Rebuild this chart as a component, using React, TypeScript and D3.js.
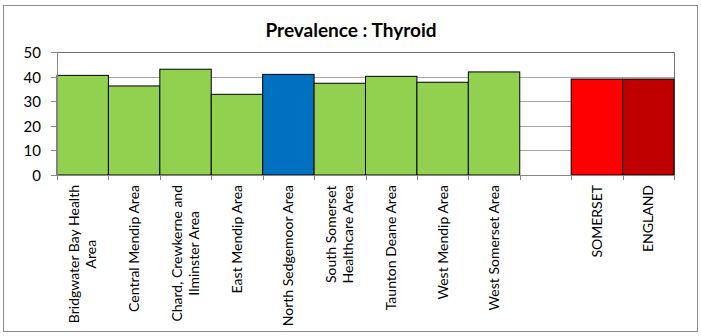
import React, { useEffect, useRef } from 'react';
import * as d3 from 'd3';

// chart data
const categories = [
  'Bridgwater Bay Health Area',
  'Central Mendip Area',
  'Chard, Crewkerne and Ilminster Area',
  'East Mendip Area',
  'North Sedgemoor Area',
  'South Somerset Healthcare Area',
  'Taunton Deane Area',
  'West Mendip Area',
  'West Somerset Area',
  '',
  'SOMERSET',
  'ENGLAND',
];
// wrapped the way Excel wraps them
const labelLines = [
  ['Bridgwater Bay Health', 'Area'],
  ['Central Mendip Area'],
  ['Chard, Crewkerne and', 'Ilminster Area'],
  ['East Mendip Area'],
  ['North Sedgemoor Area'],
  ['South Somerset', 'Healthcare Area'],
  ['Taunton Deane Area'],
  ['West Mendip Area'],
  ['West Somerset Area'],
  [],
  ['SOMERSET'],
  ['ENGLAND'],
];
const values: (number | null)[] = [40.5, 36.2, 43.0, 32.8, 40.9, 37.3, 40.1, 37.7, 41.9, null, 39.0, 39.0];
const barColors = [
  '#92D050', '#92D050', '#92D050', '#92D050', '#0070C0', '#92D050',
  '#92D050', '#92D050', '#92D050', 'none', '#FF0000', '#C00000',
];
const yTicks = [0, 10, 20, 30, 40, 50];
const title = 'Prevalence : Thyroid';

const FONT = 'Lato, "Open Sans", sans-serif';

const Chart: React.FC = () => {
  const ref = useRef<SVGSVGElement>(null);

  useEffect(() => {
    const width = 701, height = 336;
    const plot = { left: 57, right: 674, top: 52, bottom: 175 };

    const svg = d3.select(ref.current)
      .attr('width', width)
      .attr('height', height);
    svg.selectAll('*').remove();

    // outer chart frame
    svg.append('rect')
      .attr('x', 3.5).attr('y', 5.5)
      .attr('width', 694).attr('height', 326)
      .attr('fill', '#fff')
      .attr('stroke', '#8c8c8c');

    svg.append('text')
      .attr('x', 351)
      .attr('y', 37)
      .attr('text-anchor', 'middle')
      .style('font-family', FONT)
      .style('font-weight', 'bold')
      .style('font-size', '19px')
      .text(title);

    const x = d3.scaleBand<number>()
      .domain(categories.map((_, i) => i))
      .range([plot.left, plot.right])
      .padding(0);

    const y = d3.scaleLinear()
      .domain([0, 50])
      .range([plot.bottom, plot.top]);

    // gridlines
    yTicks.filter(t => t > 0 && t < 50).forEach(t => {
      svg.append('line')
        .attr('x1', plot.left).attr('x2', plot.right)
        .attr('y1', Math.round(y(t)) + 0.5).attr('y2', Math.round(y(t)) + 0.5)
        .attr('stroke', '#a6a6a6');
    });

    // plot area border (top + right)
    svg.append('path')
      .attr('d', `M${plot.left},${plot.top + 0.5}H${plot.right + 0.5}V${plot.bottom}`)
      .attr('fill', 'none')
      .attr('stroke', '#707070');

    // bars
    values.forEach((v, i) => {
      if (v == null) return;
      svg.append('rect')
        .attr('x', x(i)!)
        .attr('y', y(v))
        .attr('width', x.bandwidth())
        .attr('height', y(0) - y(v))
        .attr('fill', barColors[i])
        .attr('stroke', '#000')
        .attr('stroke-width', 1);
    });

    // y axis
    svg.append('line')
      .attr('x1', plot.left + 0.5).attr('x2', plot.left + 0.5)
      .attr('y1', plot.top).attr('y2', plot.bottom)
      .attr('stroke', '#868686');
    yTicks.forEach(t => {
      const ty = Math.round(y(t)) + 0.5;
      svg.append('line')
        .attr('x1', plot.left - 6).attr('x2', plot.left)
        .attr('y1', ty).attr('y2', ty)
        .attr('stroke', '#868686');
      svg.append('text')
        .attr('x', 41)
        .attr('y', ty)
        .attr('dy', '0.35em')
        .attr('text-anchor', 'end')
        .style('font-family', FONT)
        .style('font-size', '15px')
        .text(t);
    });

    // x axis
    svg.append('line')
      .attr('x1', plot.left).attr('x2', plot.right)
      .attr('y1', plot.bottom + 0.5).attr('y2', plot.bottom + 0.5)
      .attr('stroke', '#868686');
    categories.forEach((_, i) => {
      const bx = Math.round(x(i)!) + 0.5;
      svg.append('line')
        .attr('x1', bx).attr('x2', bx)
        .attr('y1', plot.bottom).attr('y2', plot.bottom + 5)
        .attr('stroke', '#868686');
    });
    svg.append('line')
      .attr('x1', plot.right + 0.5).attr('x2', plot.right + 0.5)
      .attr('y1', plot.bottom).attr('y2', plot.bottom + 5)
      .attr('stroke', '#868686');

    // rotated category labels, top-aligned, lines centred on each other
    const lineH = 17;
    labelLines.forEach((lines, i) => {
      if (!lines.length) return;
      const cx = x(i)! + x.bandwidth() / 2;
      const g = svg.append('g')
        .attr('transform', `translate(${cx},${plot.bottom + 10}) rotate(-90)`);
      const texts = lines.map((ln, k) => g.append('text')
        .attr('y', (k - (lines.length - 1) / 2) * lineH)
        .attr('dy', '0.35em')
        .attr('text-anchor', 'middle')
        .style('font-family', FONT)
        .style('font-size', '14px')
        .text(ln));
      const w = d3.max(texts, t => (t.node() as SVGTextElement).getComputedTextLength()) || 0;
      texts.forEach(t => t.attr('x', -w / 2));
    });
  }, []);

  return <svg ref={ref} style={{ position: 'absolute', left: 0, top: 0 }} />;
};

export default function App() {
  return <Chart />;
}
